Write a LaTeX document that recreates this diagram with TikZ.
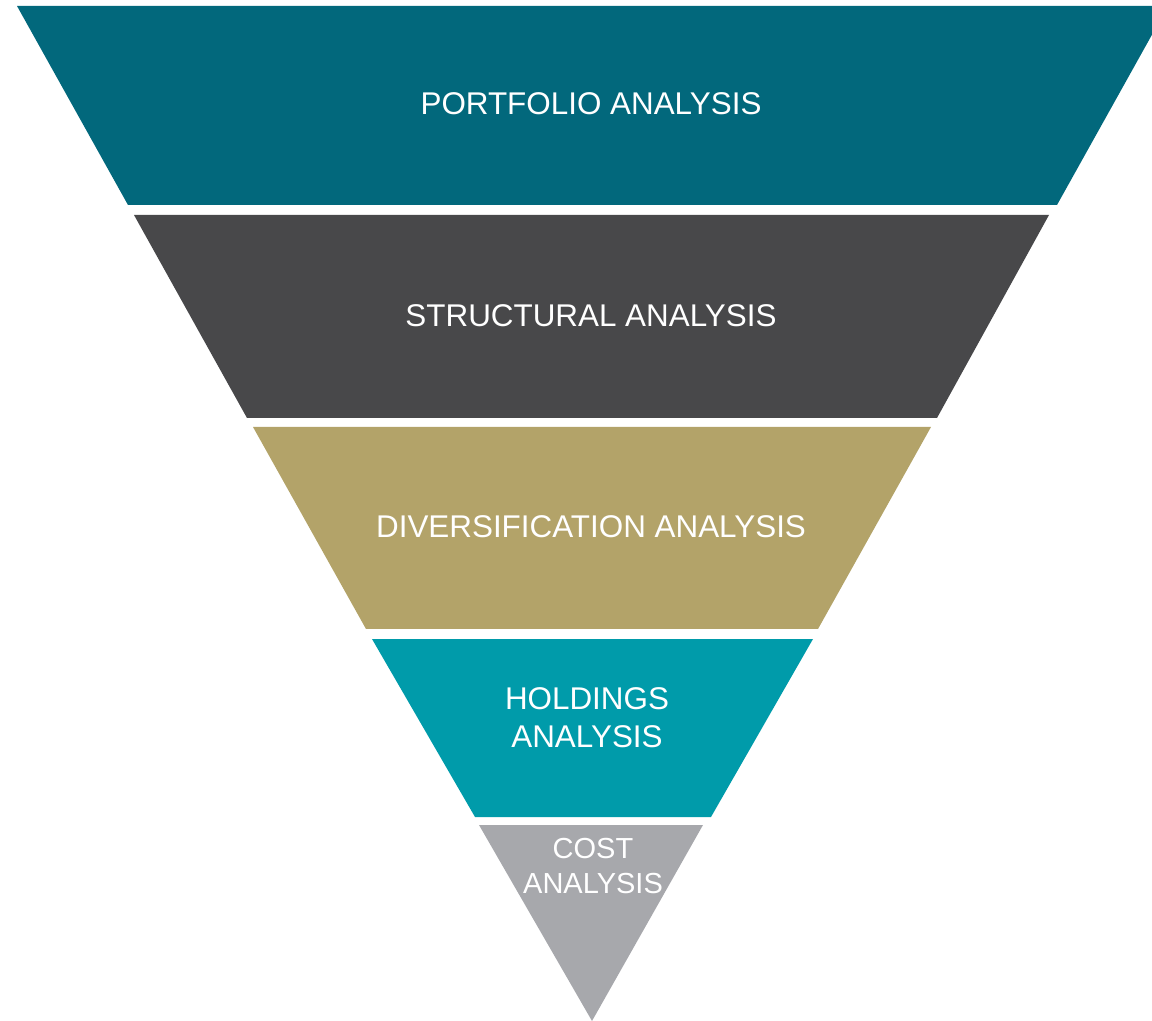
\documentclass[tikz,border=0pt]{standalone}
\usepackage{fontspec}
\setmainfont{Liberation Sans}
\definecolor{portfolio}{RGB}{2,104,124}
\definecolor{structural}{RGB}{72,72,74}
\definecolor{diversification}{RGB}{179,163,105}
\definecolor{holdings}{RGB}{0,155,170}
\definecolor{cost}{RGB}{167,168,172}
\begin{document}
\begin{tikzpicture}
    [x=0.5pt, y=-0.5pt,
     band/.style={draw=none},
     caption/.style={text=white, align=center, font=\fontsize{15.7}{19}\selectfont, inner sep=0pt},
     smallcaption/.style={caption, font=\fontsize{14.5}{17.3}\selectfont}]
    \useasboundingbox (0,0) rectangle (1152,1021);
    \clip (0,0) rectangle (1152,1021);
    % funnel bands, top to bottom
    \fill[band, portfolio]       (17,6) -- (1168,6) -- (1057,205) -- (128,205) -- cycle;
    \fill[band, structural]      (134,215) -- (1049,215) -- (937,418) -- (247,418) -- cycle;
    \fill[band, diversification] (253,427) -- (931,427) -- (818,629) -- (366,629) -- cycle;
    \fill[band, holdings]        (372,639) -- (813,639) -- (711,817) -- (475,817) -- cycle;
    \fill[band, cost]            (479,825) -- (703,825) -- (592,1021) -- cycle;
    % labels
    \node[caption] (portfolio) at (591,104) {PORTFOLIO ANALYSIS};
    \node[caption] (structural) at (591,316) {STRUCTURAL ANALYSIS};
    \node[caption] (diversification) at (591,527) {DIVERSIFICATION ANALYSIS};
    \node[caption] (holdings) at (587,718) {HOLDINGS\\ANALYSIS};
    \node[smallcaption] (cost) at (593,866) {COST\\ANALYSIS};
\end{tikzpicture}
\end{document}
